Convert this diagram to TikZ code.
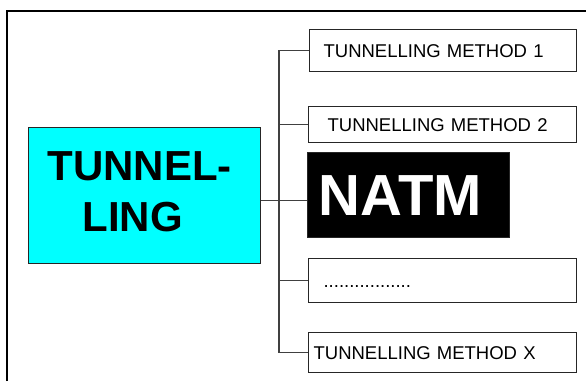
\documentclass[tikz,border=0pt]{standalone}
\usepackage{fontspec}
\setmainfont{Liberation Sans}
\definecolor{boxcyan}{RGB}{0,255,255}
\begin{document}
\begin{tikzpicture}[x=1pt,y=-1pt,
  frameline/.style={draw=black,line width=1.2pt},
  conn/.style={draw=black!75,line width=1.2pt},
  smallbox/.style={draw=black!85,line width=1.2pt,rectangle,anchor=north west,
    align=left,inner ysep=0pt,text height=13.2pt,text depth=0pt,
    font=\fontsize{18.5}{22}\selectfont},
  bigbox/.style={draw=black!85,line width=1.2pt,rectangle,anchor=north west,
    align=left,inner ysep=0pt}]
\useasboundingbox (0,0) rectangle (586,381);
\draw[frameline] (7,381) -- (7,11) -- (586,11);
% main node
\node[bigbox,fill=boxcyan,minimum width=232pt,minimum height=136pt,
  inner xsep=19pt,text width=194pt,text depth=60pt,
  font=\fontsize{42}{51}\selectfont\bfseries] (tun) at (28,127)
  {TUNNEL-\\\hspace*{35pt}LING};
% method boxes
\node[smallbox,minimum width=267pt,minimum height=42pt,inner xsep=14pt,text width=239pt]
  (m1) at (309,29) {TUNNELLING METHOD 1};
\node[smallbox,minimum width=268pt,minimum height=36pt,inner xsep=19pt,text width=230pt]
  (m2) at (308,106) {TUNNELLING METHOD 2};
\node[bigbox,fill=black,text=white,minimum width=202pt,minimum height=85pt,
  inner xsep=11pt,text width=180pt,
  font=\fontsize{58}{60}\selectfont\bfseries] (natm) at (307,152) {NATM};
\node[smallbox,minimum width=268pt,minimum height=44pt,inner xsep=15pt,text width=238pt]
  (dots) at (308,258) {.................};
\node[smallbox,minimum width=268pt,minimum height=40pt,inner xsep=5pt,text width=258pt]
  (mx) at (308,332) {TUNNELLING METHOD X};
% connectors
\coordinate (spine) at (279,0);
\coordinate (tp) at ([yshift=-5pt]tun.east);
\draw[conn] (tp) -- (natm.west |- tp);
\draw[conn] (m1.west) -- (m1.west -| spine) -- (mx.west -| spine) -- (mx.west);
\draw[conn] (m2.west) -- (m2.west -| spine);
\draw[conn] (dots.west) -- (dots.west -| spine);
\end{tikzpicture}
\end{document}
